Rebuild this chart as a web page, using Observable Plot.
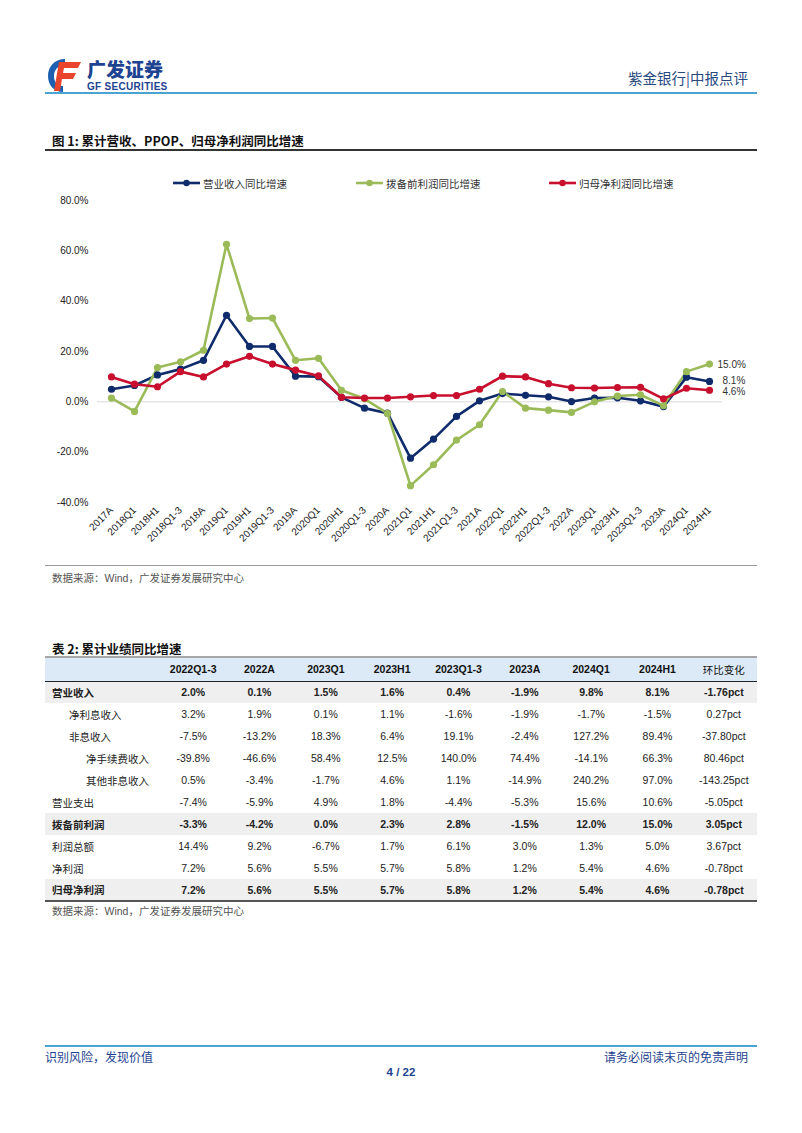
<!DOCTYPE html>
<html><head><meta charset="utf-8">
<script src="https://cdn.jsdelivr.net/npm/d3@7"></script>
<script src="https://cdn.jsdelivr.net/npm/@observablehq/plot@0.6"></script>
<style>
body{margin:0;background:#fff;width:802px;height:1133px;position:relative;overflow:hidden;font-family:"Liberation Sans","Noto Sans CJK SC",sans-serif;}
.abs{position:absolute;}
.cjk{font-family:"Noto Sans CJK SC",sans-serif;}
table{border-collapse:collapse;}
</style></head><body>
<script>
// ---------- chart data ----------
const categories = ["2017A","2018Q1","2018H1","2018Q1-3","2018A","2019Q1","2019H1","2019Q1-3","2019A","2020Q1","2020H1","2020Q1-3","2020A","2021Q1","2021H1","2021Q1-3","2021A","2022Q1","2022H1","2022Q1-3","2022A","2023Q1","2023H1","2023Q1-3","2023A","2024Q1","2024H1"];
const revenueGrowth = [5.0,6.5,10.7,13.0,16.5,34.4,22.0,22.0,10.2,10.0,1.8,-2.5,-4.5,-22.4,-14.8,-5.8,0.4,3.3,2.6,2.0,0.1,1.5,1.6,0.4,-1.9,9.8,8.1];
const ppopGrowth = [1.5,-3.8,13.6,15.9,20.5,62.6,33.1,33.3,16.5,17.3,4.6,1.2,-4.6,-33.3,-25.0,-15.2,-9.1,4.1,-2.5,-3.3,-4.2,0.0,2.3,2.8,-1.5,12.0,15.0];
const netProfitGrowth = [9.9,7.0,6.0,12.0,9.9,15.0,18.1,15.0,12.6,10.3,1.8,1.5,1.5,2.0,2.5,2.5,5.0,10.2,9.9,7.2,5.6,5.5,5.7,5.8,1.2,5.4,4.6];
const seriesNames = ["营业收入同比增速","拨备前利润同比增速","归母净利润同比增速"];
const seriesColors = ["#0f2b6b","#9bbb59","#c8102e"];
const yTicks = [-40,-20,0,20,40,60,80];

// ---------- table data ----------
const tableColumns = ["2022Q1-3","2022A","2023Q1","2023H1","2023Q1-3","2023A","2024Q1","2024H1","环比变化"];
const tableRowLabels = ["营业收入","净利息收入","非息收入","净手续费收入","其他非息收入","营业支出","拨备前利润","利润总额","净利润","归母净利润"];
const tableRowLevel = [0,1,1,2,2,0,0,0,0,0];
const tableRowBold = [true,false,false,false,false,false,true,false,false,true];
const rowRevenue = ["2.0%","0.1%","1.5%","1.6%","0.4%","-1.9%","9.8%","8.1%","-1.76pct"];
const rowNetInterest = ["3.2%","1.9%","0.1%","1.1%","-1.6%","-1.9%","-1.7%","-1.5%","0.27pct"];
const rowNonInterest = ["-7.5%","-13.2%","18.3%","6.4%","19.1%","-2.4%","127.2%","89.4%","-37.80pct"];
const rowFee = ["-39.8%","-46.6%","58.4%","12.5%","140.0%","74.4%","-14.1%","66.3%","80.46pct"];
const rowOtherNonInterest = ["0.5%","-3.4%","-1.7%","4.6%","1.1%","-14.9%","240.2%","97.0%","-143.25pct"];
const rowOpex = ["-7.4%","-5.9%","4.9%","1.8%","-4.4%","-5.3%","15.6%","10.6%","-5.05pct"];
const rowPPOP = ["-3.3%","-4.2%","0.0%","2.3%","2.8%","-1.5%","12.0%","15.0%","3.05pct"];
const rowTotalProfit = ["14.4%","9.2%","-6.7%","1.7%","6.1%","3.0%","1.3%","5.0%","3.67pct"];
const rowNetProfit = ["7.2%","5.6%","5.5%","5.7%","5.8%","1.2%","5.4%","4.6%","-0.78pct"];
const rowAttrNetProfit = ["7.2%","5.6%","5.5%","5.7%","5.8%","1.2%","5.4%","4.6%","-0.78pct"];
const tableValues = [rowRevenue,rowNetInterest,rowNonInterest,rowFee,rowOtherNonInterest,rowOpex,rowPPOP,rowTotalProfit,rowNetProfit,rowAttrNetProfit];
</script>

<!-- header -->
<div class="abs" style="left:45px;top:56px;width:40px;height:38px;">
<svg width="40" height="38" viewBox="0 0 40 38">
  <path d="M20 3 C9 3 3 11 3 20 C3 29 9 36 18 36 L18 30 C12 30 9 26 9 20 C9 14 13 9 20 9 Z" fill="#1d5fb0"/>
  <path d="M14 6 L36 6 L33 12 L19 12 L18 17 L31 17 L28 23 L17 23 L15 35 L9 35 Z" fill="#e8452c"/>
</svg></div>
<div class="abs cjk" style="left:87px;top:59px;font-size:19px;line-height:20px;font-weight:900;color:#1e4390;">广发证券</div>
<div class="abs" style="left:87px;top:81px;font-size:10px;line-height:11px;font-weight:bold;color:#1e4390;letter-spacing:0.3px;">GF SECURITIES</div>
<div class="abs cjk" style="left:628px;top:67px;font-size:14.5px;color:#2a4a7f;">紫金银行|中报点评</div>
<div class="abs" style="left:45px;top:92px;width:712px;height:2px;background:#4ba3d3;"></div>

<!-- figure title -->
<div class="abs cjk" style="left:52px;top:131px;font-size:12.5px;font-weight:bold;color:#111;">图 1:&nbsp;累计营收、PPOP、归母净利润同比增速</div>
<div class="abs" style="left:45px;top:149px;width:712px;height:1.5px;background:#333;"></div>

<!-- legend -->
<div id="legend"></div>

<div id="chart" class="abs" style="left:0;top:190px;"></div>

<div class="abs" style="left:45px;top:565px;width:712px;height:1px;background:#9a9a9a;"></div>
<div class="abs cjk" style="left:52px;top:570px;font-size:10.5px;color:#555;">数据来源：<span style="font-family:'Liberation Sans'">Wind</span>，广发证券发展研究中心</div>

<!-- table title -->
<div class="abs cjk" style="left:52px;top:639px;font-size:12.5px;font-weight:bold;color:#111;">表 2:&nbsp;累计业绩同比增速</div>
<div id="tbl" class="abs" style="left:45px;top:656px;"></div>
<div class="abs cjk" style="left:52px;top:903px;font-size:10.5px;color:#555;">数据来源：<span style="font-family:'Liberation Sans'">Wind</span>，广发证券发展研究中心</div>

<!-- footer -->
<div class="abs" style="left:45px;top:1045px;width:712px;height:2px;background:#4ba3d3;"></div>
<div class="abs cjk" style="left:45px;top:1048px;font-size:12px;color:#1e4390;">识别风险，发现价值</div>
<div class="abs cjk" style="left:604px;top:1048px;font-size:12px;color:#1e4390;">请务必阅读末页的免责声明</div>
<div class="abs" style="left:0;width:802px;top:1066px;text-align:center;font-size:11.5px;font-weight:bold;color:#1e4390;">4 / 22</div>

<script>
// long data
const data = [];
const seriesArrays = [revenueGrowth, ppopGrowth, netProfitGrowth];
seriesArrays.forEach((arr, s) => arr.forEach((v, i) => data.push({cat: categories[i], value: v, series: seriesNames[s]})));
const lastPoints = seriesArrays.map((arr, s) => ({cat: categories[categories.length-1], value: arr[arr.length-1], series: seriesNames[s], label: arr[arr.length-1].toFixed(1) + "%"}));
const labelDx = [13, 8, 13];
const labelDy = [-1, 1, 2];

const chart = Plot.plot({
  width: 802, height: 360,
  marginLeft: 97, marginRight: 80, marginTop: 10, marginBottom: 48,
  style: {fontFamily: "Liberation Sans, sans-serif", fontSize: "10px", color: "#222", background: "transparent"},
  x: {type: "point", domain: categories, padding: 0.5, label: null},
  y: {domain: [-40, 80], label: null},
  color: {domain: seriesNames, range: seriesColors},
  marks: [
    Plot.ruleY([0], {stroke: "#d9d9d9", strokeWidth: 1}),
    Plot.axisY({ticks: yTicks, tickSize: 0, tickPadding: 9, tickFormat: d => d.toFixed(1) + "%", fontSize: 10}),
    Plot.axisX({tickSize: 0, tickRotate: -45, tickPadding: 6, fontSize: 10}),
    Plot.line(data, {x: "cat", y: "value", stroke: "series", strokeWidth: 2.6, strokeLinejoin: "round"}),
    Plot.dot(data, {x: "cat", y: "value", fill: "series", r: 3.6}),
    ...lastPoints.map((p, s) => Plot.text([p], {x: "cat", y: "value", text: "label", textAnchor: "start", dx: labelDx[s], dy: labelDy[s], fontSize: 10, fill: "#333"}))
  ]
});
document.getElementById("chart").appendChild(chart);

// legend
const legendX = [172, 355, 548];
const legend = document.getElementById("legend");
seriesNames.forEach((name, i) => {
  const d = document.createElement("div");
  d.className = "abs";
  d.style.cssText = `left:${legendX[i]}px;top:176px;display:flex;align-items:center;height:14px;`;
  d.innerHTML = `<svg width="29" height="10"><line x1="1" y1="5" x2="28" y2="5" stroke="${seriesColors[i]}" stroke-width="2.6"/><circle cx="14.5" cy="5" r="3.2" fill="${seriesColors[i]}"/></svg><span class="cjk" style="font-size:10.5px;color:#333;margin-left:2px;">${name}</span>`;
  legend.appendChild(d);
});

// table
let html = `<table style="width:712px;table-layout:fixed;">`;
html += `<colgroup><col style="width:115px">` + tableColumns.map(() => `<col style="width:66.33px">`).join("") + `</colgroup>`;
html += `<tr style="background:#dce9f6;height:24px;border-top:2px solid #a6a6a6;border-bottom:1.5px solid #222;"><td></td>` +
  tableColumns.map(c => `<td style="text-align:center;font-size:10.5px;font-weight:bold;color:#111;${/[\u4e00-\u9fa5]/.test(c) ? 'font-family:Noto Sans CJK SC;font-weight:normal;' : ''}">${c}</td>`).join("") + `</tr>`;
tableRowLabels.forEach((lab, r) => {
  const bold = tableRowBold[r];
  const last = r === tableRowLabels.length - 1;
  html += `<tr style="height:22px;${bold ? 'background:#efefef;' : ''}${last ? 'border-bottom:2px solid #555;' : ''}">`;
  html += `<td class="cjk" style="padding-left:${7 + tableRowLevel[r]*17}px;font-size:10.5px;color:#222;font-weight:${bold ? 'bold' : 'normal'};white-space:nowrap;">${lab}</td>`;
  html += tableValues[r].map(v => `<td style="text-align:center;font-size:10.5px;color:#222;font-weight:${bold ? 'bold' : 'normal'};">${v}</td>`).join("");
  html += `</tr>`;
});
html += `</table>`;
document.getElementById("tbl").innerHTML = html;
</script>
</body></html>
